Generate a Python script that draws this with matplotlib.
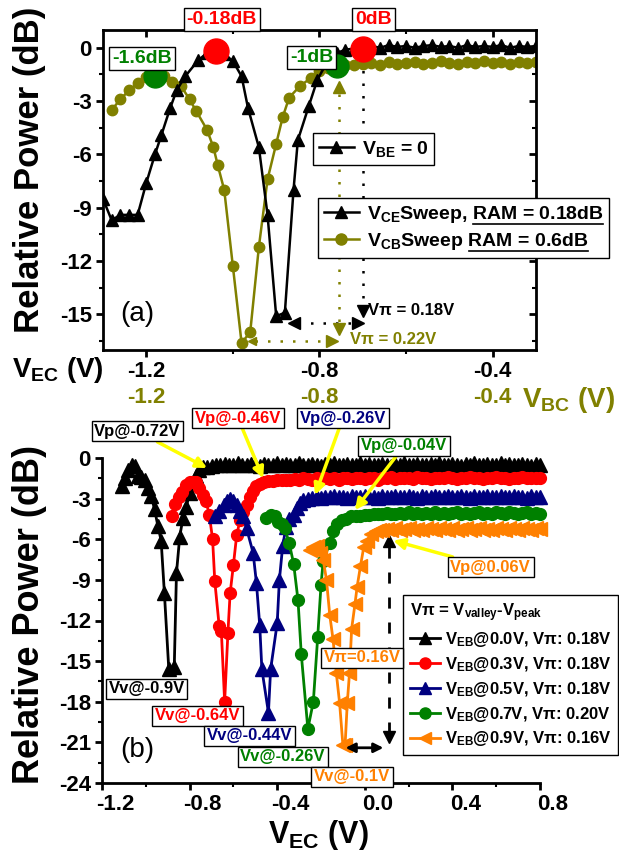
import numpy as np
import matplotlib
matplotlib.use('Agg')
import matplotlib.pyplot as plt
import matplotlib.transforms as mtransforms
from matplotlib.lines import Line2D
from matplotlib.ticker import MultipleLocator

plt.rcParams['font.family'] = ['Liberation Sans', 'DejaVu Sans']
plt.rcParams['font.weight'] = 'bold'
plt.rcParams['mathtext.fontset'] = 'custom'
plt.rcParams['mathtext.rm'] = 'Liberation Sans'
plt.rcParams['mathtext.bf'] = 'Liberation Sans:bold'
plt.rcParams['mathtext.default'] = 'bf'
plt.rcParams['axes.unicode_minus'] = False

OLIVE = '#808000'
NAVY = '#000080'
GREEN = '#008000'
ORANGE = '#ff8000'
RED = '#ff0000'
YELLOW = '#ffff00'

# ----------------------------------------------------------
# Panel (a) data : V_CE sweep (black) and V_CB sweep (olive)
# ----------------------------------------------------------
vce_dip_v = [-1.30, -1.28, -1.26, -1.24, -1.22, -1.20, -1.18, -1.165, -1.145, -1.13,
             -1.11, -1.08, -1.06, -1.04, -1.02, -1.00, -0.98, -0.965, -0.94, -0.92,
             -0.90, -0.88, -0.86, -0.85, -0.825, -0.805, -0.78, -0.76, -0.74]
vce_dip_p = [-8.5, -9.7, -9.4, -9.4, -9.4, -7.6, -6.0, -4.9, -3.4, -2.4,
             -1.6, -0.7, -0.3, -0.15, -0.35, -0.75, -1.6, -3.4, -5.6, -9.4,
             -15.1, -14.9, -8.0, -5.2, -3.3, -1.8, -0.7, -0.3, -0.1]
vcb_dip_v = [-1.28, -1.26, -1.24, -1.22, -1.20, -1.18, -1.16, -1.14, -1.12, -1.10,
             -1.085, -1.06, -1.045, -1.035, -1.02, -1.00, -0.98, -0.96, -0.94, -0.92,
             -0.90, -0.885, -0.87, -0.845, -0.82, -0.80, -0.78, -0.76, -0.74]
vcb_dip_p = [-3.5, -2.9, -2.4, -2.0, -1.65, -1.55, -1.6, -1.9, -2.15, -2.9,
             -3.55, -4.6, -5.6, -6.6, -8.0, -12.3, -16.6, -16.0, -11.2, -7.4,
             -5.4, -3.9, -2.8, -2.15, -1.7, -1.3, -1.15, -1.05, -0.95]
tail_a_v = [-0.72, -0.70, -0.68, -0.66, -0.64, -0.62, -0.60, -0.58, -0.56, -0.54, -0.52,
            -0.50, -0.48, -0.46, -0.44, -0.42, -0.40, -0.38, -0.36, -0.34, -0.32, -0.30]
vce_tail_p = [-0.05, 0.05, 0.1, 0.0, 0.15, 0.05, 0.1, 0.0, 0.1, 0.15, 0.05,
              0.1, 0.0, 0.15, 0.05, 0.1, 0.05, 0.15, 0.0, 0.1, 0.05, 0.1]
vcb_tail_p = [-0.95, -0.9, -0.85, -0.95, -0.8, -0.9, -0.85, -0.8, -0.9, -0.85, -0.75,
              -0.85, -0.9, -0.8, -0.85, -0.75, -0.85, -0.8, -0.9, -0.8, -0.85, -0.8]

# highlighted points (a)
peak_red_v = [-1.04, -0.70]
peak_red_p = [-0.18, -0.05]
peak_red_txt = ['-0.18dB', '0dB']
peak_green_v = [-1.18, -0.76]
peak_green_p = [-1.6, -1.0]
peak_green_txt = ['-1.6dB', '-1dB']

# ----------------------------------------------------------
# Panel (b) data : V_EC sweeps at several V_EB
# ----------------------------------------------------------
tail_b_v = [-0.72, -0.70, -0.68, -0.66, -0.64, -0.62, -0.60, -0.58, -0.56, -0.54, -0.52,
            -0.50, -0.48, -0.46, -0.44, -0.42, -0.40, -0.38, -0.36, -0.34, -0.32, -0.30,
            -0.28, -0.26, -0.24, -0.22, -0.20, -0.18, -0.16, -0.14, -0.12, -0.10, -0.08,
            -0.06, -0.04, -0.02, 0.00, 0.02, 0.04, 0.06, 0.08, 0.10, 0.12, 0.14,
            0.16, 0.18, 0.20, 0.22, 0.24, 0.26, 0.28, 0.30, 0.32, 0.34, 0.36,
            0.38, 0.40, 0.42, 0.44, 0.46, 0.48, 0.50, 0.52, 0.54, 0.56, 0.58,
            0.60, 0.62, 0.64, 0.66, 0.68, 0.70, 0.72, 0.74, 0.76, 0.78, 0.80]

veb_labels = ['0.0', '0.3', '0.5', '0.7', '0.9']
vpi_labels = ['0.18', '0.18', '0.18', '0.20', '0.16']

eb0_dip_v = [-1.11, -1.095, -1.08, -1.065, -1.05, -1.035, -1.02, -1.005, -0.99, -0.975,
             -0.96, -0.945, -0.93, -0.915, -0.895, -0.87, -0.86, -0.845, -0.83, -0.815,
             -0.80, -0.785, -0.77, -0.755, -0.74]
eb0_dip_p = [-2.1, -1.5, -0.9, -0.5, -0.6, -1.3, -1.4, -1.6, -2.2, -2.8,
             -3.8, -5.0, -6.1, -10.0, -15.6, -15.4, -8.5, -5.8, -4.4, -3.6,
             -2.6, -1.9, -1.3, -0.9, -0.7]
eb0_tail_p = [-0.7, -0.6, -0.55, -0.5, -0.45, -0.55, -0.5, -0.4, -0.5, -0.55, -0.45,
              -0.5, -0.6, -0.45, -0.5, -0.55, -0.4, -0.5, -0.45, -0.55, -0.5, -0.4,
              -0.5, -0.55, -0.45, -0.5, -0.6, -0.45, -0.5, -0.4, -0.55, -0.5, -0.45,
              -0.5, -0.55, -0.4, -0.5, -0.45, -0.55, -0.5, -0.45, -0.5, -0.6, -0.45,
              -0.5, -0.4, -0.55, -0.5, -0.45, -0.5, -0.55, -0.45, -0.5, -0.4, -0.5,
              -0.55, -0.45, -0.5, -0.6, -0.45, -0.5, -0.4, -0.55, -0.5, -0.45, -0.5,
              -0.55, -0.4, -0.5, -0.45, -0.55, -0.5, -0.45, -0.5, -0.6, -0.45, -0.5]

eb3_dip_v = [-0.88, -0.865, -0.85, -0.835, -0.815, -0.80, -0.785, -0.77, -0.755, -0.74,
             -0.725, -0.71, -0.695, -0.685, -0.665, -0.655, -0.64, -0.625, -0.615, -0.60,
             -0.585, -0.57, -0.555, -0.54, -0.525, -0.51, -0.495, -0.48]
eb3_dip_p = [-4.3, -3.4, -2.9, -2.5, -2.0, -1.8, -1.75, -1.8, -2.2, -2.7,
             -3.2, -4.2, -6.0, -9.1, -12.4, -12.8, -18.0, -12.9, -10.0, -7.9,
             -5.7, -4.6, -4.0, -3.5, -2.9, -2.4, -2.1, -1.9]
eb3_tail_p = [-1.75, -1.7, -1.7, -1.65, -1.6, -1.65, -1.6, -1.55, -1.6, -1.5, -1.55,
              -1.6, -1.5, -1.55, -1.45, -1.55, -1.5, -1.6, -1.45, -1.5, -1.55, -1.45,
              -1.5, -1.55, -1.45, -1.5, -1.6, -1.45, -1.5, -1.4, -1.55, -1.5, -1.45,
              -1.5, -1.55, -1.4, -1.5, -1.45, -1.55, -1.5, -1.45, -1.5, -1.4, -1.5,
              -1.55, -1.45, -1.5, -1.4, -1.5, -1.45, -1.55, -1.45, -1.5, -1.4, -1.5,
              -1.45, -1.55, -1.45, -1.5, -1.4, -1.5, -1.45, -1.5, -1.45]

eb5_dip_v = [-0.685, -0.665, -0.645, -0.63, -0.615, -0.60, -0.585, -0.57, -0.555, -0.54,
             -0.51, -0.495, -0.48, -0.47, -0.44, -0.43, -0.40, -0.39, -0.375, -0.36,
             -0.345, -0.325, -0.31, -0.295, -0.28]
eb5_dip_p = [-4.3, -3.9, -3.5, -3.2, -3.0, -3.2, -3.5, -3.9, -4.3, -5.2,
             -7.0, -9.2, -12.3, -15.6, -18.8, -15.6, -12.2, -9.0, -6.5, -5.1,
             -4.5, -4.2, -3.7, -3.3, -3.1]
eb5_tail_p = [-3.0, -2.95, -2.9, -2.95, -2.85, -2.9, -2.8, -2.9, -2.85, -2.95, -2.8,
              -2.9, -2.85, -2.8, -2.9, -2.85, -2.95, -2.8, -2.85, -2.9, -2.8, -2.85,
              -2.9, -2.8, -2.85, -2.95, -2.8, -2.9, -2.85, -2.8, -2.9, -2.85, -2.8,
              -2.85, -2.9, -2.8, -2.85, -2.95, -2.8, -2.9, -2.85, -2.8, -2.9, -2.85,
              -2.8, -2.9, -2.85, -2.8, -2.9, -2.85, -2.95, -2.8, -2.85, -2.9]

eb7_dip_v = [-0.45, -0.43, -0.41, -0.395, -0.38, -0.365, -0.345, -0.325, -0.305, -0.29,
             -0.26, -0.235, -0.215, -0.20, -0.19, -0.16, -0.145, -0.125, -0.105, -0.085,
             -0.065]
eb7_dip_p = [-4.4, -4.2, -4.3, -4.7, -4.9, -5.2, -6.3, -7.8, -10.5, -14.5,
             -20.0, -18.0, -13.2, -9.4, -7.6, -6.3, -5.4, -4.9, -4.6, -4.5,
             -4.3]
eb7_tail_p = [-4.3, -4.25, -4.2, -4.2, -4.15, -4.1, -4.15, -4.05, -4.1, -4.15, -4.05,
              -4.1, -4.0, -4.1, -4.05, -4.15, -4.05, -4.1, -4.0, -4.1, -4.05, -4.1,
              -4.05, -4.0, -4.1, -4.05, -4.15, -4.05, -4.0, -4.1, -4.05, -4.1, -4.0,
              -4.05, -4.1, -4.0, -4.05, -4.1, -4.05, -4.0, -4.1, -4.05, -4.1]

eb9_dip_v = [-0.25, -0.235, -0.22, -0.205, -0.19, -0.175, -0.16, -0.145, -0.13, -0.115,
             -0.10, -0.09, -0.08, -0.07, -0.06, -0.045, -0.035, -0.02, -0.005, 0.01,
             0.03, 0.05, 0.065]
eb9_dip_p = [-6.8, -6.6, -6.5, -7.0, -7.5, -9.0, -11.6, -13.4, -15.9, -18.1,
             -21.2, -21.2, -18.1, -15.9, -12.6, -10.8, -9.5, -8.0, -6.6, -6.1,
             -5.6, -5.4, -5.3]
eb9_tail_p = [-5.3, -5.25, -5.3, -5.2, -5.3, -5.25, -5.2, -5.3, -5.25, -5.35, -5.2,
              -5.25, -5.3, -5.2, -5.25, -5.35, -5.2, -5.3, -5.25, -5.2, -5.3, -5.25,
              -5.2, -5.3, -5.25, -5.35, -5.2, -5.25, -5.3, -5.2, -5.25, -5.3, -5.2,
              -5.25, -5.3, -5.2, -5.25]

# peak / valley annotations (b)
vp_labels = ['Vp@-0.72V', 'Vp@-0.46V', 'Vp@-0.26V', 'Vp@-0.04V', 'Vp@0.06V']
vv_labels = ['Vv@-0.9V', 'Vv@-0.64V', 'Vv@-0.44V', 'Vv@-0.26V', 'Vv@-0.1V']

# ----------------------------------------------------------
# Figure
# ----------------------------------------------------------
W, H = 619, 857
fig = plt.figure(figsize=(W / 100, H / 100), dpi=100)
axa = fig.add_axes([103 / W, 1 - 350 / H, 433 / W, 320 / H])
axb = fig.add_axes([102 / W, 1 - 783 / H, 438 / W, 325 / H])

# ---------------- panel (a) ----------------
tail_a = np.array(tail_a_v)
vce_v = np.concatenate([vce_dip_v, tail_a])
vce_p = np.concatenate([vce_dip_p, vce_tail_p])
vcb_v = np.concatenate([vcb_dip_v, tail_a])
vcb_p = np.concatenate([vcb_dip_p, vcb_tail_p])

axa.plot(vce_v, vce_p, '-^', color='k', lw=1.8, ms=8.5, zorder=3)
axa.plot(vcb_v, vcb_p, '-o', color=OLIVE, lw=1.8, ms=7.5, zorder=2)
axa.plot(peak_red_v, peak_red_p, 'o', color=RED, ms=18, zorder=5, clip_on=False)
axa.plot(peak_green_v, peak_green_p, 'o', color=GREEN, ms=16.5, zorder=5, clip_on=False)

box = dict(boxstyle='square,pad=0.15', fc='white', ec='black', lw=1)
for txt, (x, y) in zip(peak_red_txt, [(-1.026, 1.58), (-0.675, 1.58)]):
    axa.text(x, y, txt, color=RED, fontsize=14, ha='center', va='center', bbox=box, zorder=6)
for txt, (x, y) in zip(peak_green_txt, [(-1.21, -0.62), (-0.818, -0.54)]):
    axa.text(x, y, txt, color=GREEN, fontsize=14, ha='center', va='center', bbox=box, zorder=6)

# V_pi construction lines (a)
dots = (0, (1, 4))
axa.plot([-0.70, -0.70], [-0.6, -14.5], ls=dots, color='k', lw=1.8)
axa.plot([-0.70], [-14.8], 'v', color='k', ms=8)
axa.plot([-0.85, -0.72], [-15.5, -15.5], ls=dots, color='k', lw=1.8)
axa.plot([-0.86], [-15.5], '<', color='k', ms=8)
axa.plot([-0.71], [-15.5], '>', color='k', ms=8)
axa.text(-0.688, -14.8, 'V\u03c0 = 0.18V', fontsize=12, color='k', va='center')

axa.plot([-0.755, -0.755], [-2.6, -15.5], ls=dots, color=OLIVE, lw=1.8)
axa.plot([-0.755], [-2.2], '^', color=OLIVE, ms=8)
axa.plot([-0.755], [-15.8], 'v', color=OLIVE, ms=8)
axa.plot([-0.95, -0.78], [-16.5, -16.5], ls=dots, color=OLIVE, lw=1.8)
axa.plot([-0.957], [-16.5], '<', color=OLIVE, ms=6)
axa.plot([-0.77], [-16.5], '>', color=OLIVE, ms=8)
axa.text(-0.73, -16.4, 'V\u03c0 = 0.22V', fontsize=12, color=OLIVE, va='center')

axa.text(-1.2215, -14.97, '(a)', fontsize=20, fontweight='normal', ha='center', va='center')

axa.set_xlim(-1.3, -0.3)
axa.set_ylim(-17, 1)
axa.xaxis.set_minor_locator(MultipleLocator(0.2))
axa.yaxis.set_major_locator(MultipleLocator(3))
axa.yaxis.set_minor_locator(MultipleLocator(1.5))
axa.set_xticks([-1.2, -0.8, -0.4])
axa.tick_params(which='major', direction='out', length=5, width=2, labelsize=16, pad=3)
axa.tick_params(which='minor', direction='out', length=3, width=1.5)
for s in axa.spines.values():
    s.set_linewidth(2)

top = axa.secondary_xaxis('top')
top.set_xticks([-1.2, -0.8, -0.4])
top.xaxis.set_minor_locator(MultipleLocator(0.2))
top.tick_params(which='major', direction='in', length=5, width=2, labeltop=False)
top.tick_params(which='minor', direction='in', length=3, width=1.5)
right = axa.secondary_yaxis('right')
right.yaxis.set_major_locator(MultipleLocator(3))
right.yaxis.set_minor_locator(MultipleLocator(1.5))
right.tick_params(which='major', direction='in', length=5, width=2, labelright=False)
right.tick_params(which='minor', direction='in', length=3, width=1.5)

olive_ax = axa.secondary_xaxis(-0.115)
olive_ax.set_xticks([-1.2, -0.8, -0.4])
olive_ax.spines['bottom'].set_visible(False)
olive_ax.tick_params(length=0, labelsize=16, labelcolor=OLIVE, pad=0)

# legends (a)
h_be = [Line2D([0], [0], color='k', marker='^', lw=1.8, ms=9)]
leg1 = axa.legend(h_be, ['V$_{BE}$ = 0'], loc='upper left', bbox_to_anchor=(313 / W, 1 - 133 / H),
                  bbox_transform=fig.transFigure, fontsize=14, frameon=True, fancybox=False,
                  edgecolor='k', framealpha=1, borderaxespad=0, handlelength=1.8,
                  handletextpad=0.4, borderpad=0.3)
leg1.get_frame().set_linewidth(1)
axa.add_artist(leg1)
h_sw = [Line2D([0], [0], color='k', marker='^', lw=1.8, ms=9),
        Line2D([0], [0], color=OLIVE, marker='o', lw=1.8, ms=8)]
sw_lab = ['V$_{CE}$Sweep, RAM = 0.18dB', 'V$_{CB}$Sweep RAM = 0.6dB']
sw_ul = ['RAM = 0.18dB', 'RAM = 0.6dB']
leg2 = axa.legend(h_sw, sw_lab, loc='upper left', bbox_to_anchor=(318 / W, 1 - 198 / H),
                  bbox_transform=fig.transFigure, fontsize=14, frameon=True, fancybox=False,
                  edgecolor='k', framealpha=1, borderaxespad=0, handlelength=1.8,
                  handletextpad=0.4, borderpad=0.3, labelspacing=0.3)
leg2.get_frame().set_linewidth(1)
leg2.set_zorder(10)

fig.text(12 / W, 1 - 370 / H, 'V$_{EC}$ (V)', fontsize=20, ha='left', va='center')
fig.text(522 / W, 1 - 400 / H, 'V$_{BC}$ (V)', fontsize=20, ha='left', va='center', color=OLIVE)
fig.text(30 / W, 1 - 170 / H, 'Relative Power (dB)', fontsize=25, rotation=90,
         ha='center', va='center')

# ---------------- panel (b) ----------------
tail_b = np.array(tail_b_v)
series_b = [
    (eb0_dip_v, eb0_dip_p, eb0_tail_p, 'k', '^', 9.5),
    (eb3_dip_v, eb3_dip_p, eb3_tail_p, RED, 'o', 8.5),
    (eb5_dip_v, eb5_dip_p, eb5_tail_p, NAVY, '^', 9.5),
    (eb7_dip_v, eb7_dip_p, eb7_tail_p, GREEN, 'o', 8.5),
    (eb9_dip_v, eb9_dip_p, eb9_tail_p, ORANGE, '<', 9.5),
]
handles_b = []
for dv, dp, tp, c, m, ms in series_b:
    tv = tail_b[len(tail_b) - len(tp):]
    x = np.concatenate([dv, tv])
    y = np.concatenate([dp, tp])
    axb.plot(x, y, '-' + m, color=c, lw=2, ms=ms, clip_on=False, zorder=3)
    handles_b.append(Line2D([0], [0], color=c, marker=m, lw=2, ms=8))

# dashed V_pi construction (b)
axb.plot([0.112, 0.112], [-6.6, -20.2], ls=(0, (4, 5)), color='k', lw=2)
axb.plot([0.112], [-6.1], '^', color='k', ms=9)
axb.plot([0.112], [-20.6], 'v', color='k', ms=9)
axb.annotate('', xy=(-0.088, -21.4), xytext=(0.085, -21.4),
             arrowprops=dict(arrowstyle='<|-|>', color='k', lw=2, mutation_scale=14,
                             shrinkA=0, shrinkB=0))

vp_cols = ['k', RED, NAVY, GREEN, ORANGE]
vp_text_xy = [(-1.038, 1.96), (-0.579, 2.95), (-0.10, 2.95), (0.179, 0.89), (0.575, -8.08)]
vp_tip_xy = [(-0.72, -0.74), (-0.464, -1.5), (-0.227, -2.73), (-0.045, -3.84), (0.13, -6.1)]
for lab, c, txy, pxy in zip(vp_labels, vp_cols, vp_text_xy, vp_tip_xy):
    axb.annotate(lab, xy=pxy, xytext=txy, color=c, fontsize=12, ha='center', va='center',
                 bbox=box, annotation_clip=False, zorder=6,
                 arrowprops=dict(arrowstyle='-|>', color=YELLOW, lw=2.5, mutation_scale=16,
                                 shrinkA=0, shrinkB=0))

vv_xy = [(-0.996, -17.05), (-0.764, -19.04), (-0.526, -20.5), (-0.374, -22.07), (-0.058, -23.55)]
for lab, c, (x, y) in zip(vv_labels, vp_cols, vv_xy):
    axb.text(x, y, lab, color=c, fontsize=12, ha='center', va='center', bbox=box, zorder=6)
axb.text(-0.013, -14.76, 'V\u03c0=0.16V', color=ORANGE, fontsize=12, ha='center', va='center',
         bbox=box, zorder=6)
axb.text(-1.04, -21.55, '(b)', fontsize=20, fontweight='normal', ha='center', va='center')

leg_b = axb.legend(handles_b,
                   ['V$_{EB}$@%sV, V\u03c0: %sV' % (a, b) for a, b in zip(veb_labels, vpi_labels)],
                   title='V\u03c0 = V$_{\\mathrm{valley}}$-V$_{\\mathrm{peak}}$',
                   loc='upper left', bbox_to_anchor=(403 / W, 1 - 595 / H),
                   bbox_transform=fig.transFigure, fontsize=12, title_fontsize=12,
                   frameon=True, fancybox=False, edgecolor='k', framealpha=1,
                   borderaxespad=0, handlelength=1.8, handletextpad=0.3,
                   borderpad=0.4, labelspacing=0.35, alignment='left')
leg_b.get_frame().set_linewidth(1)
leg_b.get_title().set_fontweight('bold')

axb.set_xlim(-1.2, 0.8)
axb.set_ylim(-24, 0)
axb.set_xticks([-1.2, -0.8, -0.4, 0.0, 0.4, 0.8])
axb.xaxis.set_minor_locator(MultipleLocator(0.2))
axb.yaxis.set_major_locator(MultipleLocator(3))
axb.yaxis.set_minor_locator(MultipleLocator(1.5))
axb.set_xticklabels(['-1.2', '-0.8', '-0.4', '0.0', '0.4', '0.8'])
axb.tick_params(which='major', direction='out', length=5, width=2, labelsize=16, pad=3)
axb.tick_params(which='minor', direction='out', length=3, width=1.5)
axb.spines['top'].set_visible(False)
axb.spines['right'].set_visible(False)
axb.spines['left'].set_linewidth(2)
axb.spines['bottom'].set_linewidth(2)
shift = mtransforms.ScaledTranslation(13 / 100, 0, fig.dpi_scale_trans)
for tk in axb.xaxis.get_major_ticks():
    tk.label1.set_transform(tk.label1.get_transform() + shift)

fig.text(318 / W, 1 - 835 / H, 'V$_{EC}$ (V)', fontsize=22, ha='center', va='center')
fig.text(30 / W, 1 - 615 / H, 'Relative Power (dB)', fontsize=26, rotation=90,
         ha='center', va='center')

# underline the RAM part of the sweep legend
fig.canvas.draw()
renderer = fig.canvas.get_renderer()
for t, suffix in zip(leg2.get_texts(), sw_ul):
    bb = t.get_window_extent(renderer)
    tmp = fig.text(0, 0, suffix, fontsize=14)
    ws = tmp.get_window_extent(renderer).width
    tmp.remove()
    yl = bb.y0 + 1
    fig.add_artist(Line2D([(bb.x1 - ws) / W, bb.x1 / W], [yl / H, yl / H],
                          transform=fig.transFigure, color='k', lw=1.2, zorder=20))

fig.savefig('out.png', dpi=100)
